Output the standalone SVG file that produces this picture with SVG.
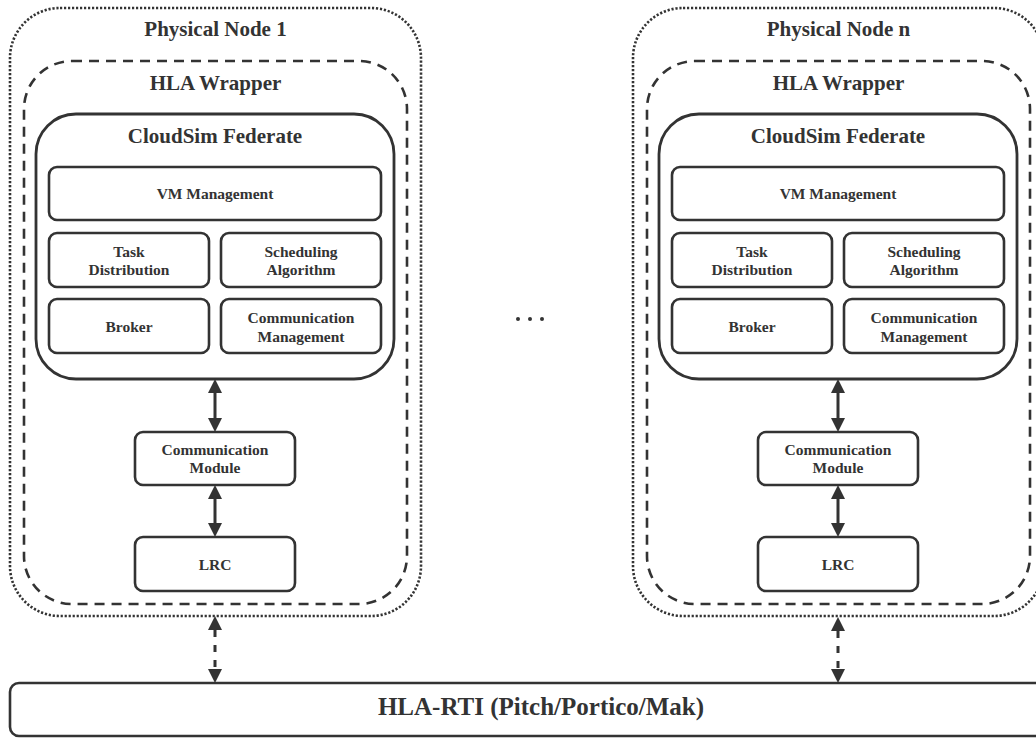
<svg xmlns="http://www.w3.org/2000/svg" width="1036" height="738" viewBox="0 0 1036 738">
  <style>
    .physical { fill: none; stroke: #333; stroke-width: 2.6; stroke-dasharray: 2.2 1.8; }
    .wrapper { fill: none; stroke: #333; stroke-width: 2.6; stroke-dasharray: 10 7; }
    .federate { fill: #fff; stroke: #333; stroke-width: 2.8; }
    .box { fill: #fff; stroke: #333; stroke-width: 2.6; }
    .title { font-family: "Liberation Serif", "Times New Roman", serif; font-weight: bold; font-size: 21px; fill: #333; text-anchor: middle; }
    .label { font-family: "Liberation Serif", "Times New Roman", serif; font-weight: bold; font-size: 15.5px; fill: #333; text-anchor: middle; }
    .rti { font-family: "Liberation Serif", "Times New Roman", serif; font-weight: bold; font-size: 25px; fill: #333; text-anchor: middle; }
    .link { stroke: #333; stroke-width: 3; fill: none; }
    .link-dashed { stroke: #333; stroke-width: 3; fill: none; stroke-dasharray: 7 8; }
  </style>
  <defs>
    <marker id="head" markerUnits="userSpaceOnUse" viewBox="0 0 14 14" markerWidth="14" markerHeight="14" refX="0" refY="7" orient="auto-start-reverse">
      <path d="M0,0 L14,7 L0,14 z" fill="#333"/>
    </marker>
  </defs>
  <rect width="1036" height="738" fill="#fff"/>

  <!-- Physical node 1 -->
  <g id="node1">
    <rect class="physical" x="10" y="8" width="411" height="608" rx="50" ry="50"/>
    <text class="title" x="215.5" y="36">Physical Node 1</text>
    <rect class="wrapper" x="24" y="61" width="383" height="543" rx="48" ry="48"/>
    <text class="title" x="215.5" y="90">HLA Wrapper</text>
    <g id="federate1">
      <rect class="federate" x="36" y="114" width="358" height="265" rx="40" ry="40"/>
      <text class="title" x="215" y="143">CloudSim Federate</text>
      <g id="vm1">
        <rect class="box" x="49" y="167" width="332" height="53" rx="8"/>
        <text class="label" x="215" y="199">VM Management</text>
      </g>
      <g id="task1">
        <rect class="box" x="49" y="233" width="160" height="54" rx="8"/>
        <text class="label" x="129" y="257">Task</text>
        <text class="label" x="129" y="275">Distribution</text>
      </g>
      <g id="sched1">
        <rect class="box" x="221" y="233" width="160" height="54" rx="8"/>
        <text class="label" x="301" y="257">Scheduling</text>
        <text class="label" x="301" y="275">Algorithm</text>
      </g>
      <g id="broker1">
        <rect class="box" x="49" y="299" width="160" height="54" rx="8"/>
        <text class="label" x="129" y="332">Broker</text>
      </g>
      <g id="commmgmt1">
        <rect class="box" x="221" y="299" width="160" height="54" rx="8"/>
        <text class="label" x="301" y="323">Communication</text>
        <text class="label" x="301" y="342">Management</text>
      </g>
    </g>
    <g id="commmod1">
      <rect class="box" x="135" y="432" width="160" height="53" rx="8"/>
      <text class="label" x="215" y="455">Communication</text>
      <text class="label" x="215" y="473">Module</text>
    </g>
    <g id="lrc1">
      <rect class="box" x="135" y="537" width="160" height="54" rx="8"/>
      <text class="label" x="215" y="570">LRC</text>
    </g>
  </g>

  <!-- Physical node n -->
  <g id="nodeN">
    <rect class="physical" x="633" y="8" width="411" height="608" rx="50" ry="50"/>
    <text class="title" x="838.5" y="36">Physical Node n</text>
    <rect class="wrapper" x="647" y="61" width="383" height="543" rx="48" ry="48"/>
    <text class="title" x="838.5" y="90">HLA Wrapper</text>
    <g id="federateN">
      <rect class="federate" x="659" y="114" width="358" height="265" rx="40" ry="40"/>
      <text class="title" x="838" y="143">CloudSim Federate</text>
      <g id="vmN">
        <rect class="box" x="672" y="167" width="332" height="53" rx="8"/>
        <text class="label" x="838" y="199">VM Management</text>
      </g>
      <g id="taskN">
        <rect class="box" x="672" y="233" width="160" height="54" rx="8"/>
        <text class="label" x="752" y="257">Task</text>
        <text class="label" x="752" y="275">Distribution</text>
      </g>
      <g id="schedN">
        <rect class="box" x="844" y="233" width="160" height="54" rx="8"/>
        <text class="label" x="924" y="257">Scheduling</text>
        <text class="label" x="924" y="275">Algorithm</text>
      </g>
      <g id="brokerN">
        <rect class="box" x="672" y="299" width="160" height="54" rx="8"/>
        <text class="label" x="752" y="332">Broker</text>
      </g>
      <g id="commmgmtN">
        <rect class="box" x="844" y="299" width="160" height="54" rx="8"/>
        <text class="label" x="924" y="323">Communication</text>
        <text class="label" x="924" y="342">Management</text>
      </g>
    </g>
    <g id="commmodN">
      <rect class="box" x="758" y="432" width="160" height="53" rx="8"/>
      <text class="label" x="838" y="455">Communication</text>
      <text class="label" x="838" y="473">Module</text>
    </g>
    <g id="lrcN">
      <rect class="box" x="758" y="537" width="160" height="54" rx="8"/>
      <text class="label" x="838" y="570">LRC</text>
    </g>
  </g>

  <!-- ellipsis between the nodes -->
  <g id="ellipsis" fill="#333">
    <circle cx="518" cy="319" r="2"/>
    <circle cx="530" cy="319" r="2"/>
    <circle cx="542" cy="319" r="2"/>
  </g>

  <!-- run-time infrastructure bus -->
  <g id="rti">
    <rect class="box" x="10" y="683" width="1062" height="53" rx="9"/>
    <text class="rti" x="541" y="715">HLA-RTI (Pitch/Portico/Mak)</text>
  </g>

  <!-- connectors -->
  <g id="connectors">
    <line class="link" x1="215" y1="393" x2="215" y2="418" marker-start="url(#head)" marker-end="url(#head)"/>
    <line class="link" x1="215" y1="499" x2="215" y2="523" marker-start="url(#head)" marker-end="url(#head)"/>
    <line class="link-dashed" x1="215" y1="630" x2="215" y2="669" marker-start="url(#head)" marker-end="url(#head)"/>
    <line class="link" x1="838" y1="393" x2="838" y2="418" marker-start="url(#head)" marker-end="url(#head)"/>
    <line class="link" x1="838" y1="499" x2="838" y2="523" marker-start="url(#head)" marker-end="url(#head)"/>
    <line class="link-dashed" x1="838" y1="631" x2="838" y2="669" marker-start="url(#head)" marker-end="url(#head)"/>
  </g>
</svg>
